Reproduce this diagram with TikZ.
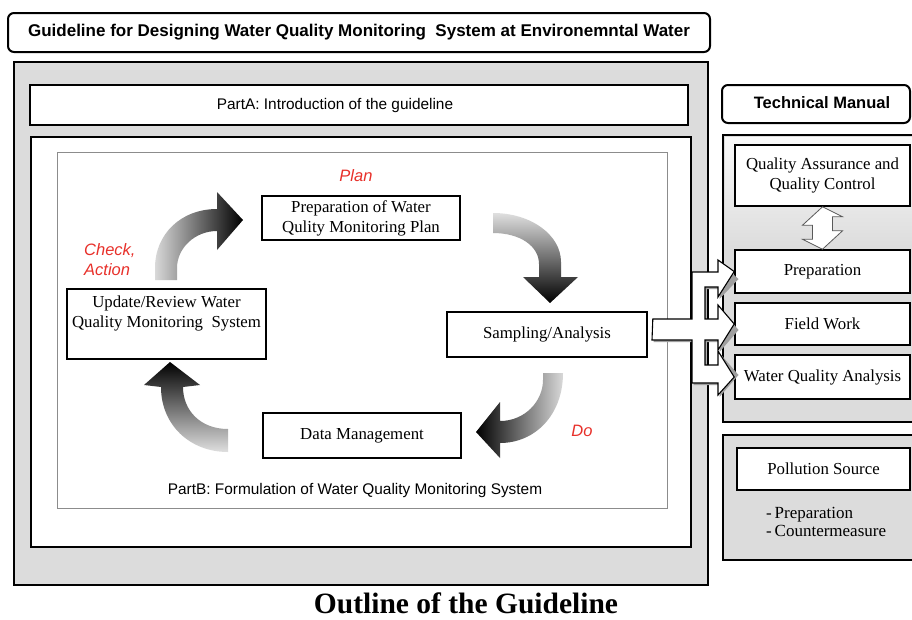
\documentclass[tikz,border=0pt]{standalone}
\usepackage{fontspec}
\setmainfont{Liberation Serif}
\setsansfont{Liberation Sans}
\definecolor{panelgray}{HTML}{DCDCDC}
\definecolor{labelred}{HTML}{E8302A}
\definecolor{framegray}{HTML}{8C8C8C}
\begin{document}
\begin{tikzpicture}[x=1pt,y=-1pt,
  titlebox/.style={draw=black, line width=2pt, rounded corners=6pt, fill=white,
    font=\sffamily\bfseries\fontsize{17}{20}\selectfont, inner sep=0pt},
  panel/.style={draw=black, line width=2.6pt, fill=panelgray, inner sep=0pt},
  partbox/.style={draw=black, line width=2.4pt, fill=white, inner sep=0pt},
  stagebox/.style={draw=black, line width=1.6pt, fill=white, inner sep=0pt,
    font=\fontsize{16.8}{20}\selectfont, align=center},
  stagetext/.style={font=\fontsize{16.8}{20}\selectfont, align=center, inner sep=0pt},
  sanstext/.style={font=\sffamily\fontsize{15.4}{18}\selectfont, inner sep=0pt},
  phase/.style={font=\sffamily\itshape\fontsize{16.5}{20}\selectfont, text=labelred,
    inner sep=0pt, align=left},
  cyclearrow/.style={shading=axis, draw=none},
  hollow/.style={draw=black, line width=1.1pt, fill=white, line join=miter},
]
\useasboundingbox (0,0) rectangle (912,619);
\clip (0,0) rectangle (912,619);
\fill[white] (0,0) rectangle (912,619);

% heading
\node[titlebox, minimum width=702, minimum height=39] (title) at (359,32.5)
  {Guideline for Designing Water Quality Monitoring\ \ System at Environemntal Water};

% guideline body
\node[panel, minimum width=694, minimum height=523] (guide) at (361,323.5) {};
\node[partbox, minimum width=658, minimum height=40] (parta) at (359,105) {};
\node[sanstext] (partalabel) at (335,105.5) {PartA: Introduction of the guideline};
\node[partbox, minimum width=660, minimum height=410] (partb) at (361,342) {};
\node[draw=framegray, line width=1pt, fill=white, minimum width=610, minimum height=356,
  inner sep=0pt] (cycle) at (362,330) {};
\node[sanstext] (partblabel) at (355,491) {PartB: Formulation of Water Quality Monitoring System};

% cycle stages
\node[stagebox, minimum width=198, minimum height=44] (plan) at (361,218)
  {Preparation of Water\\Qulity Monitoring Plan};
\node[stagebox, minimum width=200, minimum height=45] (samp) at (547,334.5)
  {Sampling/Analysis};
\node[stagebox, minimum width=198, minimum height=45] (data) at (362,435.5)
  {Data Management};
\node[stagebox, minimum width=199, minimum height=70] (upd) at (166.5,324) {};
\node[stagetext] (updtext) at (166.5,313) {Update/Review Water\\Quality Monitoring\ \ System};

% phase labels
\node[phase] (lplan) at (356,176) {Plan};
\node[phase, anchor=west] (lcheck) at (84,260) {Check,\\Action};
\node[phase] (ldo) at (582,431) {Do};

% curved cycle arrows
\path[cyclearrow, left color=gray!30, right color=black]
  (155,280) -- (155,268) .. controls (155,234) and (181,209) .. (217,209)
  -- (217,192) -- (243,220) -- (217,250) -- (217,231)
  .. controls (195,231) and (177,248) .. (177,268) -- (177,280) -- cycle;
\path[cyclearrow, top color=gray!25, bottom color=black]
  (493,213) .. controls (531,213) and (561,235) .. (561,262) -- (561,277)
  -- (578,277) -- (550,303) -- (523,277) -- (539,277) -- (539,264)
  .. controls (539,246) and (520,233) .. (493,233) -- cycle;
\path[cyclearrow, left color=black, right color=gray!30]
  (543,373) -- (563,373) .. controls (563,415) and (535,443) .. (500,443)
  -- (500,458) -- (476,432) -- (500,402) -- (500,421)
  .. controls (525,421) and (543,401) .. (543,380) -- cycle;
\path[cyclearrow, top color=black, bottom color=gray!25]
  (228,429) -- (228,452) .. controls (190,452) and (161,425) .. (161,387)
  -- (144,385) -- (170,362) -- (200,385) -- (183,387)
  .. controls (183,410) and (200,429) .. (228,429) -- cycle;

% technical manual
\node[titlebox, minimum width=188, minimum height=38] (tm) at (816,104) {};
\node[font=\sffamily\bfseries\fontsize{16.5}{20}\selectfont, inner sep=0pt]
  (tmlabel) at (822,103) {Technical Manual};
\node[panel, minimum width=197, minimum height=287] (tmpanel) at (821.5,278.5) {};
\shade[top color=white!85!panelgray, bottom color=panelgray]
  (725,137) rectangle (912,250);
\node[stagebox, minimum width=175, minimum height=61] (qa) at (822.5,175.5)
  {Quality Assurance and\\Quality Control};
\node[stagebox, minimum width=175, minimum height=43] (prep) at (822.5,271.5) {Preparation};
\node[stagebox, minimum width=175, minimum height=42] (field) at (822.5,324) {Field Work};
\node[stagebox, minimum width=175, minimum height=44] (wqa) at (822.5,377) {Water Quality Analysis};

% two-way link between QA/QC and the work items
\path[draw=gray!70!black, line width=0.8pt, fill=white]
  (qa.south) -- ++(20,10) -- ++(-10,0) -- ++(0,14) -- ++(10,0)
  -- (prep.north) -- ++(-20,-10) -- ++(10,0) -- ++(0,-14) -- ++(-10,0) -- cycle;

% pollution source
\node[panel, minimum width=197, minimum height=125] (pspanel) at (821.5,497.5) {};
\node[stagebox, minimum width=173, minimum height=42] (ps) at (823.5,469) {Pollution Source};
\node[stagetext, anchor=north west, align=left, font=\fontsize{17}{18}\selectfont]
  (pslist) at (766,507) {-\,Preparation\\-\,Countermeasure};

% block arrow from sampling to the technical manual items
\begin{scope}[shift={(1.5,2)}]
\fill[gray!75]
  (652,319) -- (692,319) -- (692,272) -- (718,272) -- (718,260) -- (737,277)
  -- (718,297) -- (718,287) -- (705,287) -- (705,319) -- (718,319) -- (718,305)
  -- (737,328) -- (718,350) -- (718,340) -- (705,340) -- (705,365) -- (718,365)
  -- (718,351) -- (737,373) -- (718,395) -- (718,383) -- (692,383) -- (692,340)
  -- (652,340) -- cycle;
\end{scope}
\path[hollow]
  (samp.east) ++(5,-15.5) coordinate (forkstart)
  (forkstart) -- (692,319) -- (692,272) -- (718,272) -- (718,260) -- (prep.west)
  -- (718,297) -- (718,287) -- (705,287) -- (705,319) -- (718,319) -- (718,305)
  -- (field.west) -- (718,350) -- (718,340) -- (705,340) -- (705,365) -- (718,365)
  -- (718,351) -- (wqa.west) -- (718,395) -- (718,383) -- (692,383) -- (692,340)
  -- (652,340) -- cycle;

% caption
\node[font=\bfseries\fontsize{29.5}{32}\selectfont, anchor=base, inner sep=0pt]
  (caption) at (466,613.5) {Outline of the Guideline};
\end{tikzpicture}
\end{document}
